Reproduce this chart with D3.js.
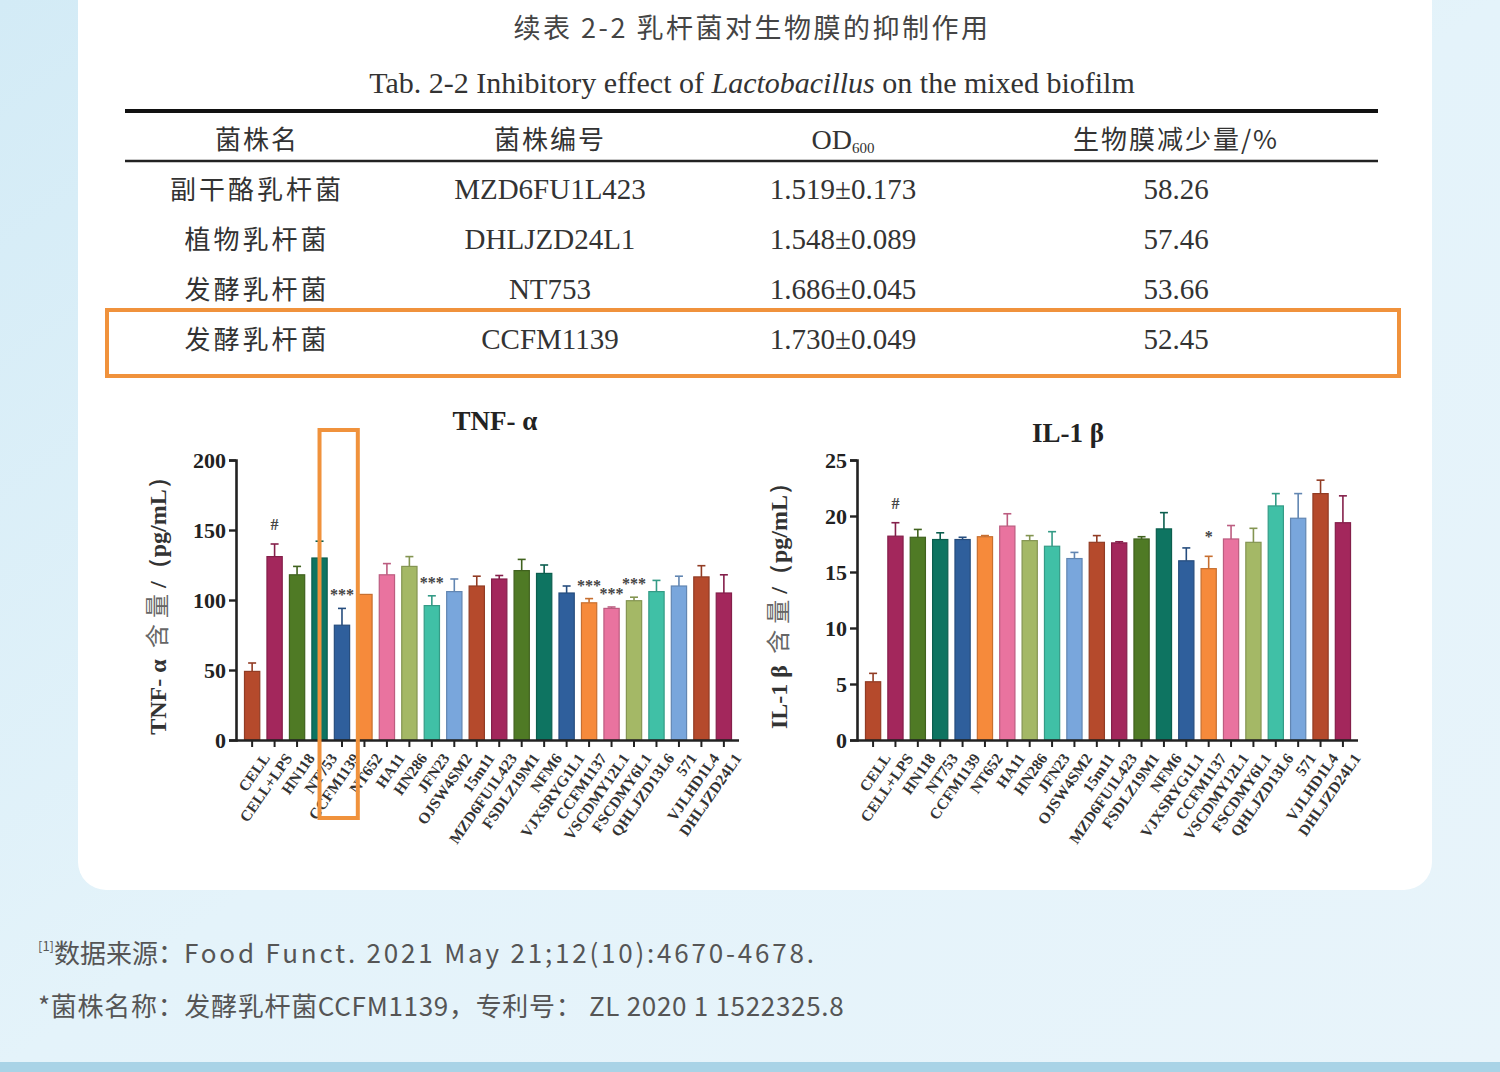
<!DOCTYPE html>
<html>
<head>
<meta charset="utf-8">
<script src="https://cdn.jsdelivr.net/npm/d3@7"></script>
<style>
  html, body { margin: 0; padding: 0; }
  body { width: 1500px; height: 1072px; overflow: hidden; }
  svg { display: block; }
</style>
</head>
<body>
<div id="chart"></div>
<script>
// table data
const tableHeaders = ['菌株名', '菌株编号', 'OD', '生物膜减少量/%'];
const strainNames = ['副干酪乳杆菌', '植物乳杆菌', '发酵乳杆菌', '发酵乳杆菌'];
const strainCodes = ['MZD6FU1L423', 'DHLJZD24L1', 'NT753', 'CCFM1139'];
const odMean = ['1.519', '1.548', '1.686', '1.730'];
const odSd = ['0.173', '0.089', '0.045', '0.049'];
const reduction = ['58.26', '57.46', '53.66', '52.45'];
const highlightRow = 3;

// bar chart data
const groups = ['CELL', 'CELL+LPS', 'HN118', 'NT753', 'CCFM1139', 'NT652', 'HA11', 'HN286',
  'JFN23', 'OJSW4SM2', '15m11', 'MZD6FU1L423', 'FSDLZ19M1', 'NFM6', 'VJXSRYG1L1',
  'CCFM1137', 'VSCDMY12L1', 'FSCDMY6L1', 'QHLJZD13L6', '571', 'VJLHD1L4', 'DHLJZD24L1'];
const tnfValues = [49, 131, 118, 130, 82, 104, 118, 124, 96, 106, 110, 115, 121, 119, 105, 98, 94, 99.5, 106, 110, 116.5, 105];
const tnfErrors = [6, 9, 6, 12, 12, 0, 8, 7, 7, 9, 7, 2.5, 8, 6, 5, 3, 1, 2.5, 8, 7, 8, 13];
const tnfMarks = ['', '#', '', '', '***', '', '', '', '***', '', '', '', '', '', '', '***', '***', '***', '', '', '', ''];
const ilValues = [5.2, 18.2, 18.1, 17.9, 17.9, 18.15, 19.1, 17.8, 17.3, 16.2, 17.65, 17.6, 17.95, 18.85, 16.0, 15.3, 17.95, 17.65, 20.9, 19.8, 22.0, 19.4];
const ilErrors = [0.75, 1.2, 0.7, 0.6, 0.2, 0.1, 1.1, 0.45, 1.3, 0.55, 0.6, 0.1, 0.2, 1.45, 1.15, 1.1, 1.2, 1.25, 1.1, 2.2, 1.2, 2.4];
const ilMarks = ['', '#', '', '', '', '', '', '', '', '', '', '', '', '', '', '*', '', '', '', '', '', ''];
const palette = ['#b54a2c', '#a3275c', '#4f7a25', '#0e7461', '#2f5f9c', '#f68a3b', '#e9739f', '#a4b866', '#40c0a6', '#79a6dc'];
const tnfTicks = [0, 50, 100, 150, 200];
const ilTicks = [0, 5, 10, 15, 20, 25];

const W = 1500, H = 1072;
const serif = '"Liberation Serif", "DejaVu Serif", serif';
const cjk = '"Noto Sans CJK SC", "Noto Sans", sans-serif';

const svg = d3.select('#chart').append('svg')
  .attr('width', W)
  .attr('height', H);

const defs = svg.append('defs');
const bg = defs.append('linearGradient').attr('id', 'bg')
  .attr('x1', 0).attr('y1', 0).attr('x2', 1).attr('y2', 1);
bg.append('stop').attr('offset', 0).attr('stop-color', '#d3ebf6');
bg.append('stop').attr('offset', 0.5).attr('stop-color', '#e4f3fa');
bg.append('stop').attr('offset', 1).attr('stop-color', '#e8f4fa');

svg.append('rect').attr('width', W).attr('height', H).attr('fill', 'url(#bg)');
svg.append('rect').attr('x', 0).attr('y', 1062).attr('width', W).attr('height', 10).attr('fill', '#a9d3e6');

// white card
svg.append('rect')
  .attr('x', 78).attr('y', -40)
  .attr('width', 1354).attr('height', 930)
  .attr('rx', 28)
  .attr('fill', '#fff');

// ---- table ----
svg.append('text')
  .attr('x', 752).attr('y', 38)
  .attr('text-anchor', 'middle')
  .attr('font-family', cjk)
  .attr('font-size', 27)
  .attr('letter-spacing', 2.5)
  .attr('fill', '#444')
  .text('续表 2-2 乳杆菌对生物膜的抑制作用');

const sub = svg.append('text')
  .attr('x', 752).attr('y', 93)
  .attr('text-anchor', 'middle')
  .attr('font-family', serif)
  .attr('font-size', 30)
  .attr('fill', '#333');
sub.append('tspan').text('Tab. 2-2 Inhibitory effect of ');
sub.append('tspan').attr('font-style', 'italic').text('Lactobacillus');
sub.append('tspan').text(' on the mixed biofilm');

const tableLeft = 125, tableRight = 1378;
svg.append('line').attr('x1', tableLeft).attr('x2', tableRight)
  .attr('y1', 111).attr('y2', 111).attr('stroke', '#111').attr('stroke-width', 4);
svg.append('line').attr('x1', tableLeft).attr('x2', tableRight)
  .attr('y1', 161).attr('y2', 161).attr('stroke', '#222').attr('stroke-width', 2.5);

const colX = [257, 550, 843, 1176];
const rowY = d3.scaleBand().domain(d3.range(strainNames.length)).range([164, 364]);

const header = svg.append('g').attr('fill', '#333').attr('text-anchor', 'middle');
tableHeaders.forEach((h, i) => {
  const t = header.append('text')
    .attr('x', colX[i]).attr('y', 149)
    .attr('font-family', i === 2 ? serif : cjk)
    .attr('font-size', i === 2 ? 28 : 26)
    .attr('letter-spacing', i === 2 ? 0 : 2);
  t.append('tspan').text(h);
  if (i === 2) t.append('tspan').attr('font-size', 15).attr('dy', 4).text('600');
});

const rows = svg.append('g').attr('fill', '#333').attr('text-anchor', 'middle');
strainNames.forEach((name, i) => {
  const y = rowY(i) + rowY.bandwidth() / 2 + 10;
  rows.append('text').attr('x', colX[0]).attr('y', y)
    .attr('font-family', cjk).attr('font-size', 26).attr('letter-spacing', 3).text(name);
  rows.append('text').attr('x', colX[1]).attr('y', y)
    .attr('font-family', serif).attr('font-size', 29).text(strainCodes[i]);
  rows.append('text').attr('x', colX[2]).attr('y', y)
    .attr('font-family', serif).attr('font-size', 29).text(odMean[i] + '±' + odSd[i]);
  rows.append('text').attr('x', colX[3]).attr('y', y)
    .attr('font-family', serif).attr('font-size', 29).text(reduction[i]);
});

svg.append('rect')
  .attr('x', 107).attr('y', rowY(highlightRow) - 4)
  .attr('width', 1292).attr('height', rowY.bandwidth() + 16)
  .attr('fill', 'none')
  .attr('stroke', '#f0923c')
  .attr('stroke-width', 4);

// ---- bar charts ----
function barChart(opts) {
  const g = svg.append('g');
  const x = d3.scaleBand().domain(groups).range([opts.left + 4, opts.right]).paddingInner(0.32).paddingOuter(0.2);
  const y = d3.scaleLinear().domain([0, opts.max]).range([740, 460]);

  g.selectAll('rect.bar')
    .data(groups)
    .join('rect')
    .attr('class', 'bar')
    .attr('x', d => x(d))
    .attr('y', (d, i) => y(opts.values[i]))
    .attr('width', x.bandwidth())
    .attr('height', (d, i) => y(0) - y(opts.values[i]))
    .attr('fill', (d, i) => palette[i % palette.length])
    .attr('stroke', (d, i) => d3.color(palette[i % palette.length]).darker(0.6))
    .attr('stroke-width', 1.2);

  // error bars (upper only)
  const err = g.append('g');
  groups.forEach((d, i) => {
    if (!opts.errors[i]) return;
    const cx = x(d) + x.bandwidth() / 2;
    const col = d3.color(palette[i % palette.length]).darker(0.6);
    err.append('line').attr('x1', cx).attr('x2', cx)
      .attr('y1', y(opts.values[i])).attr('y2', y(opts.values[i] + opts.errors[i]))
      .attr('stroke', col).attr('stroke-width', 1.6);
    err.append('line').attr('x1', cx - 4).attr('x2', cx + 4)
      .attr('y1', y(opts.values[i] + opts.errors[i])).attr('y2', y(opts.values[i] + opts.errors[i]))
      .attr('stroke', col).attr('stroke-width', 1.6);
  });

  // significance marks
  g.selectAll('text.mark')
    .data(groups)
    .join('text')
    .attr('class', 'mark')
    .attr('x', d => x(d) + x.bandwidth() / 2)
    .attr('y', (d, i) => y(opts.values[i] + opts.errors[i]) - (opts.marks[i] === '***' ? 8 : 14))
    .attr('text-anchor', 'middle')
    .attr('font-family', serif)
    .attr('font-weight', 'bold')
    .attr('font-size', 16)
    .attr('fill', '#444')
    .text((d, i) => opts.marks[i]);

  // axes
  const yAxis = g.append('g')
    .attr('transform', `translate(${opts.left},0)`)
    .call(d3.axisLeft(y).tickValues(opts.ticks).tickSize(7).tickPadding(3));
  yAxis.select('.domain').attr('stroke', '#222').attr('stroke-width', 2.6);
  yAxis.selectAll('.tick line').attr('stroke', '#222').attr('stroke-width', 2.4);
  yAxis.selectAll('.tick text')
    .attr('font-family', serif).attr('font-weight', 'bold')
    .attr('font-size', 22).attr('fill', '#222');

  const xAxis = g.append('g')
    .attr('transform', 'translate(0,740)')
    .call(d3.axisBottom(x).tickSize(7).tickSizeOuter(0).tickPadding(6));
  xAxis.select('.domain')
    .attr('d', `M${opts.left},0.5H${opts.right + 3}`)
    .attr('stroke', '#222').attr('stroke-width', 2.6);
  xAxis.selectAll('.tick line').attr('stroke', '#222').attr('stroke-width', 2);
  xAxis.selectAll('.tick text')
    .attr('font-family', serif).attr('font-weight', 'bold')
    .attr('font-size', 15.5).attr('fill', '#333')
    .attr('text-anchor', 'end')
    .attr('dy', '0.3em')
    .attr('transform', 'translate(4,8) rotate(-55)');

  // chart title
  g.append('text')
    .attr('x', opts.titleX).attr('y', opts.titleY)
    .attr('text-anchor', 'middle')
    .attr('font-family', serif).attr('font-weight', 'bold')
    .attr('font-size', 27).attr('fill', '#222')
    .text(opts.title);

  // y label: latin part bold serif, CJK part regular
  const yl = g.append('text')
    .attr('transform', `translate(${opts.left - 70},600) rotate(-90)`)
    .attr('text-anchor', 'middle')
    .attr('font-size', 24).attr('fill', '#333');
  yl.append('tspan').attr('font-family', serif).attr('font-weight', 'bold').text(opts.yLabel[0]);
  yl.append('tspan').attr('font-family', cjk).attr('fill', '#666').attr('letter-spacing', 6).text(' 含量');
  yl.append('tspan').attr('font-family', serif).attr('font-weight', 'bold').text('/（pg/mL）');

  return { x, y };
}

const tnf = barChart({
  left: 236, right: 736, max: 200, ticks: tnfTicks,
  values: tnfValues, errors: tnfErrors, marks: tnfMarks,
  title: 'TNF- α', titleX: 495, titleY: 430,
  yLabel: ['TNF- α']
});

barChart({
  left: 857, right: 1355, max: 25, ticks: ilTicks,
  values: ilValues, errors: ilErrors, marks: ilMarks,
  title: 'IL-1 β', titleX: 1068, titleY: 442,
  yLabel: ['IL-1 β']
});

// highlight box around CCFM1139 / NT652 in TNF chart
const hx0 = tnf.x('NT753') + tnf.x.bandwidth() / 2;
const hx1 = tnf.x('NT652') + 1;
svg.append('rect')
  .attr('x', hx0).attr('y', 430)
  .attr('width', hx1 - hx0).attr('height', 388)
  .attr('fill', 'none')
  .attr('stroke', '#f0923c')
  .attr('stroke-width', 4);

// footnotes
const note1 = svg.append('text')
  .attr('x', 38).attr('y', 963)
  .attr('font-family', cjk).attr('font-size', 26).attr('fill', '#555');
note1.append('tspan').attr('font-size', 13).attr('dy', -12).text('[1]');
note1.append('tspan').attr('dy', 12).text('数据来源：');
note1.append('tspan').attr('letter-spacing', 2.8).text('Food Funct. 2021 May 21;12(10):4670-4678.');

svg.append('text')
  .attr('x', 38).attr('y', 1016)
  .attr('font-family', cjk).attr('font-size', 26).attr('fill', '#555')
  .attr('letter-spacing', 0.7)
  .text('*菌株名称：发酵乳杆菌CCFM1139，专利号： ZL 2020 1 1522325.8');
</script>
</body>
</html>
